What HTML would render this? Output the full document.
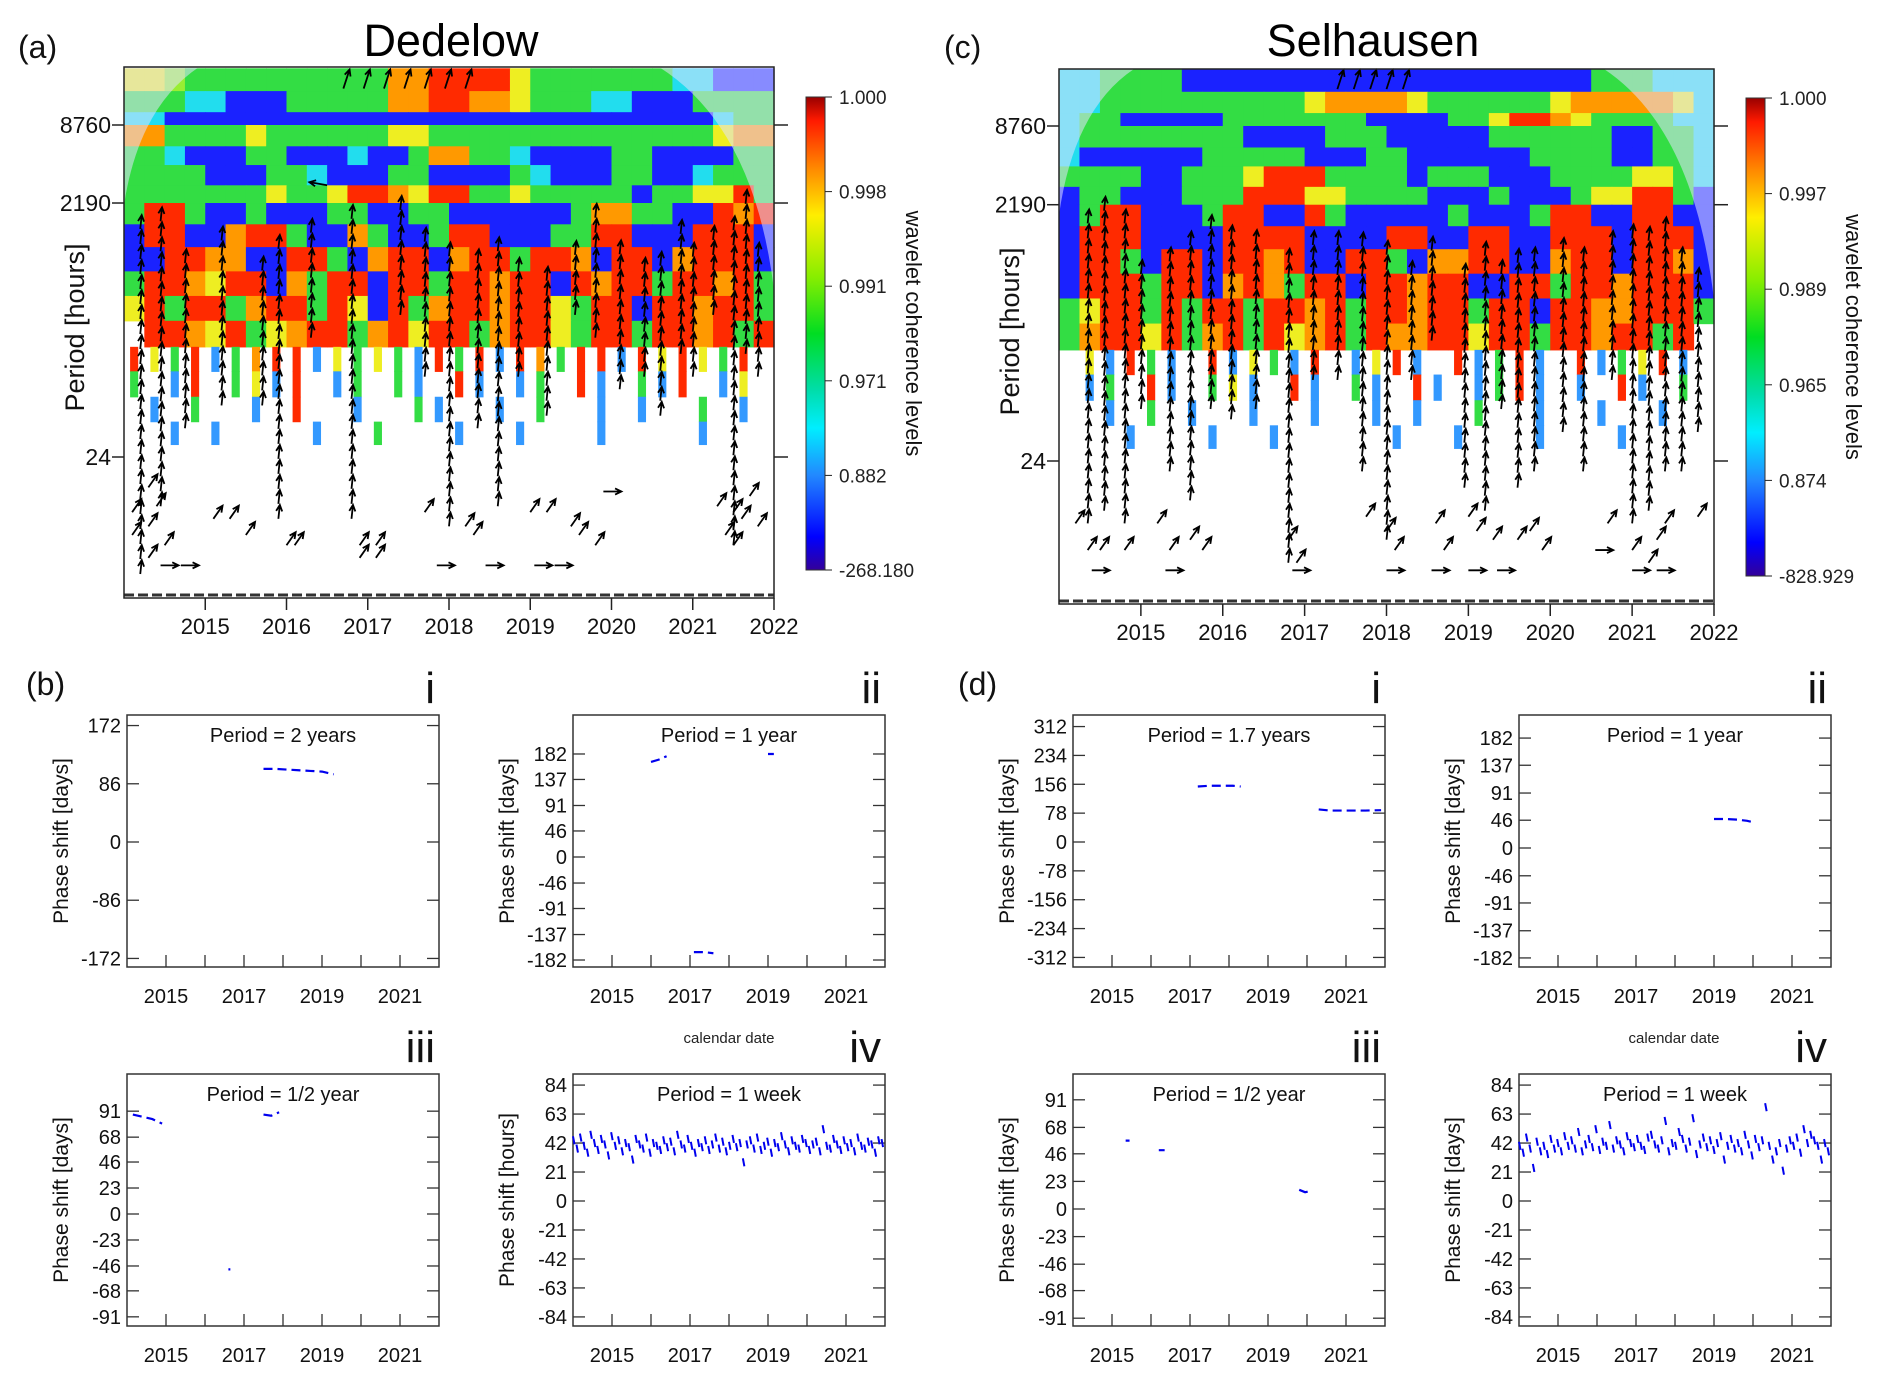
<!DOCTYPE html>
<html><head><meta charset="utf-8"><style>
html,body{margin:0;padding:0;background:#fff;}
svg{display:block;font-family:"Liberation Sans",Arial,sans-serif;}
</style></head><body>
<svg id="fig" width="1892" height="1381" viewBox="0 0 1892 1381" xmlns="http://www.w3.org/2000/svg">
<defs>
<linearGradient id="cbar" x1="0" y1="0" x2="0" y2="1">
<stop offset="0" stop-color="#990000"/><stop offset="0.05" stop-color="#ff1a00"/><stop offset="0.15" stop-color="#ff8800"/>
<stop offset="0.25" stop-color="#ffee00"/><stop offset="0.38" stop-color="#88ee00"/><stop offset="0.5" stop-color="#00dd22"/>
<stop offset="0.62" stop-color="#00ddaa"/><stop offset="0.7" stop-color="#00eeff"/><stop offset="0.8" stop-color="#2288ff"/>
<stop offset="0.93" stop-color="#0000ff"/><stop offset="1" stop-color="#330099"/></linearGradient>
</defs>
</svg>
<script>
// ---------- data ----------
const periodEdges=[24000,16000,11000,8760,6000,4300,3000,2190,1500,1000,650,420,270,170,110,70,45,30];
const dedelowGrid=[
"YYgGGGGGGGGGGOORRRRYGGGGGGGCCBBB",
"GGGCCBBBGGGGGOORROOYGGGCCBBBGGGG",
"CCBBBBBBBBBBBBBBBBBBBBBBBBBBBCGG",
"OOGGGGYGGGGGGYYGGGGGGGGGGGGGGYOO",
"GGCBBBGGBBBCBBGOOGGCBBBBGGBBBBGG",
"GGGGBBBGGCBBBGGBBBBGCBBBGGBBCGGG",
"GGGGGGGYGGYRROYRRGGYGGGGGBGGYYRG",
"GRRGBBGBBBGGBBGGBBBBBBGOOGGBBROR",
"BRRBBORRGBBOGBBGRRBBBGGRRBBBRRRB",
"BBRROOBBRRGBORRBORRGRROBRRBORRRB",
"GRROYRRBOGRRBRRGRRORRBRORRGRRORG",
"YRGRRGORRGRYBRGORRORRYGRRBRRORRG",
"WRROYRGYORRGORYRRGORRYGRRGRRORGR",
"RYGRbGORRbYGYGbRGRbROGRRbRYRYGRW",
"GWbRWGYbRWbGWGbWRbWbGWRbWGbRWbYW",
"WbWGWWbWRWWbWWGbWWbWGWWbWbWWGWbW",
"WWbWbWWWWbWWGWWWbWWbWWWbWWWWbWWW"];
const selhausenGrid=[
"CCGGGGBBBBBBBBBBBBBBBBBBBBGGGCCC",
"CCGGGGGGGGGGYOOOOYGGGGGGYOOOOOYC",
"CGGBBBBBGGGGGGGBBBBGGYRROYGGGGCC",
"CGGGGGGGGBBBBGGGBBBBBGGGGGGBBGGC",
"CBBBBBBGGGGGBBBGGBBBBBBGGGGBBGGC",
"GGGGBBGGGYRRRGGGGBGGGBBBGGGGYYGC",
"BGGBBBGGGRRRYYGGGGBBBGBBBGYYRRGB",
"BGRRBBBGRRBBRGBBBBBGBBBGRRBBRRBB",
"BRRRBBBBRRRRBBBBRRBBRRBBRRRBRRRB",
"BRRGBRRBRRORBBRRGBOORRBBORRBRROB",
"BRRRGRRBOROGRRBRRORRBBRRGRRORRRB",
"GYRRGRGRRGRRORGRRORRGRRBRROORRRG",
"GORRYRGORGRYORGROORRYRRGRRORRGRW",
"WYbRGbWRbYGbRWbYRbWRbGRbWRbGYRbW",
"WbGWRbWGYbWRbWGbWRbWbGRbWbWRbWGW",
"WWbWGWbWWbWWbWWbWbWWGWWbWWbWWbWW",
"WWWbWWWbWWbWWWWWbWWbWWWbWWWbWWWW"];
// arrow columns: year, top period, bottom period
const dedColYears=[2014.2,2014.45,2014.75,2015.2,2015.7,2015.9,2016.3,2016.8,2017.4,2017.7,2018.0,2018.35,2018.6,2018.85,2019.2,2019.55,2019.8,2020.1,2020.4,2020.6,2020.85,2021.0,2021.25,2021.5,2021.65,2021.8];
const dedColTop=[1500,1800,900,1200,800,1000,1500,1700,2500,1200,1000,900,1000,800,600,1000,2000,1000,700,900,1500,1000,1400,1500,2500,900];
const dedColBot=[3,10,40,60,60,8,200,8,300,100,7,40,10,100,50,300,200,80,100,50,150,100,300,5,150,100];
const dedDiagYears=[2014.3,2014.4,2014.3,2014.5,2014.3,2015.1,2015.3,2015.5,2016.0,2016.1,2016.9,2017.1,2016.9,2017.1,2017.7,2018.2,2018.3,2019.0,2019.2,2019.5,2019.6,2019.8,2021.3,2021.5,2021.6,2021.4,2021.5,2021.7,2021.8,2014.1,2014.1];
const dedDiagPer=[14,10,7,5,4,8,8,6,5,5,5,5,4,4,9,7,6,9,9,7,6,5,10,9,8,6,5,12,7,9,6];
const dedHorizYears=[2014.45,2014.7,2017.85,2018.45,2019.05,2019.3,2019.9,2016.5];
const dedHorizPer=[3.5,3.5,3.5,3.5,3.5,3.5,13,3000];
const selColYears=[2014.35,2014.55,2014.8,2015.0,2015.35,2015.6,2015.85,2016.1,2016.4,2016.8,2017.1,2017.4,2017.7,2018.0,2018.3,2018.55,2018.95,2019.2,2019.4,2019.6,2019.8,2020.15,2020.4,2020.75,2021.0,2021.2,2021.4,2021.6,2021.8];
const selColTop=[1800,2500,1800,700,900,1100,1800,1400,1200,900,1300,1100,1200,1000,700,1000,700,900,700,800,1000,1100,900,1200,1300,1200,1500,900,600];
const selColBot=[8,10,8,60,20,12,60,50,60,4,100,100,20,6,100,200,15,10,60,15,20,40,20,100,8,10,20,20,40];
const selDiagYears=[2014.2,2014.35,2014.5,2014.8,2015.2,2015.35,2015.6,2015.75,2016.8,2016.9,2017.75,2018.0,2018.1,2018.6,2018.7,2019.0,2019.1,2019.3,2019.6,2019.75,2019.9,2020.7,2021.0,2021.2,2021.3,2021.4,2021.8];
const selDiagPer=[8,5,5,5,8,5,6,5,6,4,9,7,5,8,5,9,7,6,6,7,5,8,5,4,6,8,9];
const selHorizYears=[2014.4,2015.3,2018.0,2018.55,2019.0,2019.35,2020.55,2021.0,2021.3,2016.85];
const selHorizPer=[3.5,3.5,3.5,3.5,3.5,3.5,5,3.5,3.5,3.5];
// phase series (null = gap)
const biYears=[2017.5,2017.8,2018.1,2018.4,2018.7,2019.0,2019.3];
const biVals=[108,108,107,106,105,104,100];
const biiYears=[2016.0,2016.2,2016.4,null,2019.0,2019.15,null,2017.1,2017.35,2017.6];
const biiVals=[168,172,178,null,182,182,null,-168,-168,-170];
const biiiYears=[2014.15,2014.4,2014.65,2014.9,null,2017.5,2017.7,2017.9,null,2016.6,2016.65];
const biiiVals=[88,86,84,80,null,88,87,90,null,-49,-49];
const divYears=[2017.2,2017.5,2017.8,2018.1,2018.3,null,2020.3,2020.6,2020.9,2021.2,2021.5,2021.9];
const diVals=[150,152,152,152,150,null,88,85,85,85,85,86];
const diiYears=[2019.0,2019.3,2019.6,2019.85,2020.05];
const diiVals=[48,48,47,45,42];
const diiiYears=[2015.35,2015.45,null,2016.2,2016.35,null,2019.8,2019.95,2020.1];
const diiiVals=[57,57,null,49,49,null,16,14,15];
const bivVals=[44,38,46,40,35,48,42,37,45,41,33,47,40,44,36,42,39,30,45,41,38,46,35,42,40,37,44,39,43,36,48,41,38,45,40,35,42,39,44,37,41,46,38,43,36,40,45,39,42,28,41,44,38,46,37,40,43,35,42,39,47,41,36,44,40,38,45,42,37,41,43,36,52,40,38,45,41,37,44,39,42,36,46,40,38,43,41,35,44,42];
const divVals=[40,35,46,38,24,43,36,40,34,45,38,42,36,47,40,44,38,50,36,41,45,39,52,37,43,40,55,38,44,41,36,47,42,39,45,40,37,46,48,41,38,44,58,36,42,40,50,45,38,43,60,34,41,46,39,44,37,42,47,30,40,45,38,42,36,48,41,33,45,39,44,68,40,30,36,42,22,38,44,40,46,35,52,42,48,44,40,30,42,36];
const yearTicksTop=[2015,2016,2017,2018,2019,2020,2021,2022];
const periodTicks=[8760,2190,24];
const yearTicksBottom=[2015,2017,2019,2021];
const dedCbarLabels=["1.000","0.998","0.991","0.971","0.882","-268.180"];
const selCbarLabels=["1.000","0.997","0.989","0.965","0.874","-828.929"];

// ---------- drawing ----------
const NS="http://www.w3.org/2000/svg";
const svg=document.getElementById('fig');
function mk(tag,attrs,parent){const e=document.createElementNS(NS,tag);for(const k in attrs)e.setAttribute(k,attrs[k]);(parent||svg).appendChild(e);return e;}
function txt(s,attrs,parent){const e=mk('text',attrs,parent);e.textContent=s;return e;}
const COL={B:'#1a22ff',C:'#22ddee',G:'#33dd44',g:'#99ee33',Y:'#eeee22',O:'#ff9900',R:'#ff2a00',b:'#3399ff'};

function topPanel(cfg){
  const g=mk('g',{});
  
  
  const k=(cfg.y24-cfg.y8760)/Math.log2(8760/24);
  const yP=p=>cfg.y24-Math.log2(p/24)*k;
  const xY=yr=>cfg.x0+(yr-2014)*(cfg.x1-cfg.x0)/8;
  const cw=(cfg.x1-cfg.x0)/32;
  cfg.grid.forEach((row,r)=>{
    const ya=Math.max(cfg.y0,yP(periodEdges[r])), yb=yP(periodEdges[r+1]);
    for(let c=0;c<32;c++){const ch=row[c]; if(ch==='W')continue;
      const narrow=r>=13||ch==='b';
      const w=narrow?cw*0.4:cw+0.6;
      const cell=mk('rect',{x:xY(2014+c*0.25)+(narrow?cw*0.3:0),y:ya,width:w,height:yb-ya+0.6,fill:COL[ch]},g);
      
      
    }
  });
  const cone=mk('path',{d:`M${cfg.x0},${cfg.y0} L${cfg.x0},${cfg.coneL} Q${cfg.x0+15},${cfg.y0+40} ${cfg.x0+cfg.coneTL},${cfg.y0} Z M${cfg.x1},${cfg.y0} L${cfg.x1-cfg.coneTR},${cfg.y0} Q${cfg.x1-20},${cfg.y0+60} ${cfg.x1},${cfg.coneR} Z`,fill:'rgba(225,225,255,0.55)'},g);
  
  
  function arrow(x,y,ang,len){
    const a=ang*Math.PI/180, dx=Math.cos(a)*len, dy=-Math.sin(a)*len;
    const x2=x+dx,y2=y+dy;
    const p=mk('path',{d:`M${x},${y} L${x2},${y2} M${x2-Math.cos(a-0.45)*7},${y2+Math.sin(a-0.45)*7} L${x2},${y2} L${x2-Math.cos(a+0.45)*7},${y2+Math.sin(a+0.45)*7}`,stroke:'#000','stroke-width':1.8,fill:'none'},g);
    
    
  }
  cfg.colYears.forEach((yr,i)=>{
    const yt=yP(cfg.colTop[i]), yb=yP(cfg.colBot[i]);
    for(let y=yb;y>yt;y-=15) arrow(xY(yr),y,84,14);
  });
  cfg.diagYears.forEach((yr,i)=>arrow(xY(yr),yP(cfg.diagPer[i]),55,16));
  cfg.horizYears.forEach((yr,i)=>arrow(xY(yr),yP(cfg.horizPer[i]),cfg.horizPer[i]>100?170:0,18));
  cfg.topArrows.forEach(yr=>{arrow(xY(yr),yP(cfg.topPer)+10,72,20);});
  const bb=mk('line',{x1:cfg.x0,y1:cfg.y1-3,x2:cfg.x1,y2:cfg.y1-3,stroke:'#333','stroke-width':3,'stroke-dasharray':'10 4'},g);
  
  
  const fr=mk('rect',{x:cfg.x0,y:cfg.y0,width:cfg.x1-cfg.x0,height:cfg.y1-cfg.y0,fill:'none',stroke:'#222','stroke-width':1.5},g);
  
  
  periodTicks.forEach(p=>{
    const y=yP(p);
    mk('line',{x1:cfg.x0-12,y1:y,x2:cfg.x0,y2:y,stroke:'#222','stroke-width':1.5},g);
    mk('line',{x1:cfg.x1,y1:y,x2:cfg.x1+14,y2:y,stroke:'#222','stroke-width':1.5},g);
    const t=txt(String(p),{x:cfg.x0-13,y:y+8,'font-size':23,'text-anchor':'end',fill:'#111'},g);
    
    
  });
  yearTicksTop.forEach(yr=>{
    const x=xY(yr);
    mk('line',{x1:x,y1:cfg.y1,x2:x,y2:cfg.y1+12,stroke:'#222','stroke-width':1.5},g);
    const t=txt(String(yr),{x:x,y:cfg.y1+36,'font-size':22,'text-anchor':'middle',fill:'#111'},g);
    
    
  });
  const yl=txt('Period [hours]',{x:0,y:0,'font-size':27,'text-anchor':'middle',fill:'#111',transform:`translate(${cfg.x0-40},${(cfg.y0+cfg.y1)/2-5}) rotate(-90)`},g);
  
  
  const ti=txt(cfg.title,{x:cfg.titleX,y:56,'font-size':45,'text-anchor':'middle',fill:'#000'},g);
  
  
  const pl=txt(cfg.letter,{x:cfg.letterX,y:58,'font-size':32,fill:'#111'},g);
  
  
  const cb=mk('rect',{x:cfg.cbx,y:cfg.cby0,width:19,height:cfg.cby1-cfg.cby0,fill:'url(#cbar)',stroke:'#333','stroke-width':1},g);
  
  
  cfg.cbLabels.forEach((s,i)=>{
    const y=cfg.cby0+i*(cfg.cby1-cfg.cby0)/5;
    mk('line',{x1:cfg.cbx+19,y1:y,x2:cfg.cbx+26,y2:y,stroke:'#222'},g);
    const t=txt(s,{x:cfg.cbx+33,y:y+7,'font-size':19,fill:'#222'},g);
    
    
  });
  const cl=txt('wavelet coherence levels',{x:0,y:0,'font-size':22,'text-anchor':'middle',fill:'#111',transform:`translate(${cfg.cbx+100},${(cfg.cby0+cfg.cby1)/2}) rotate(90)`},g);
  
  
}

topPanel({name:'dedelow-wavelet-panel',grid:dedelowGrid,x0:124,x1:774,y0:67,y1:598,y8760:125,y24:457,coneL:205,coneTL:75,coneTR:115,coneR:290,
 colYears:dedColYears,colTop:dedColTop,colBot:dedColBot,diagYears:dedDiagYears,diagPer:dedDiagPer,horizYears:dedHorizYears,horizPer:dedHorizPer,
 topArrows:[2016.7,2016.95,2017.2,2017.45,2017.7,2017.95,2018.2],topPer:20000,
 title:'Dedelow',titleX:451,letter:'(a)',letterX:18,cbx:806,cby0:97,cby1:570,cbLabels:dedCbarLabels});
topPanel({name:'selhausen-wavelet-panel',grid:selhausenGrid,x0:1059,x1:1714,y0:69,y1:604,y8760:126,y24:461,coneL:215,coneTL:75,coneTR:110,coneR:300,
 colYears:selColYears,colTop:selColTop,colBot:selColBot,diagYears:selDiagYears,diagPer:selDiagPer,horizYears:selHorizYears,horizPer:selHorizPer,
 topArrows:[2017.4,2017.6,2017.8,2018.0,2018.2],topPer:20000,
 title:'Selhausen',titleX:1373,letter:'(c)',letterX:944,cbx:1746,cby0:98,cby1:576,cbLabels:selCbarLabels});

function phasePanel(cfg){
  const g=mk('g',{});
  
  
  const x0=cfg.x0,x1=x0+312,y0=cfg.y0,y1=y0+252;
  const xY=yr=>x0+(yr-2014)*(x1-x0)/8;
  const yV=v=>cfg.yZero-v*cfg.scale;
  const fr=mk('rect',{x:x0,y:y0,width:x1-x0,height:y1-y0,fill:'none',stroke:'#333','stroke-width':1.5},g);
  
  
  cfg.ticks.forEach(v=>{
    const y=yV(v);
    mk('line',{x1:x0,y1:y,x2:x0+12,y2:y,stroke:'#333','stroke-width':1.3},g);
    mk('line',{x1:x1-12,y1:y,x2:x1,y2:y,stroke:'#333','stroke-width':1.3},g);
    const t=txt(String(v),{x:x0-6,y:y+7,'font-size':20,'text-anchor':'end',fill:'#111'},g);
    
    
  });
  for(let yr=2015;yr<=2021;yr++){mk('line',{x1:xY(yr),y1:y1,x2:xY(yr),y2:y1-12,stroke:'#333','stroke-width':1.3},g);}
  yearTicksBottom.forEach(yr=>{
    const t=txt(String(yr),{x:xY(yr),y:y1+36,'font-size':20,'text-anchor':'middle',fill:'#111'},g);
    
    
  });
  const ti=txt(cfg.title,{x:(x0+x1)/2,y:y0+27,'font-size':20,'text-anchor':'middle',fill:'#111'},g);
  
  
  const yl=txt(cfg.ylab,{x:0,y:0,'font-size':21,'text-anchor':'middle',fill:'#111',transform:`translate(${x0-59},${(y0+y1)/2}) rotate(-90)`},g);
  
  
  const rn=txt(cfg.roman,{x:x1-4,y:y0-12,'font-size':44,'text-anchor':'end',fill:'#111'},g);
  
  
  if(cfg.years){
    let d='',pen=false;
    cfg.years.forEach((yr,i)=>{ if(yr===null){pen=false;return;} d+=(pen?'L':'M')+xY(yr)+','+yV(cfg.vals[i])+' '; pen=true;});
    const s=mk('path',{d:d,stroke:'#0000ee','stroke-width':2.2,fill:'none','stroke-dasharray':'9 5'},g);
    
    
  }
  if(cfg.week){
    let d='';const n=cfg.week.length;
    cfg.week.forEach((v,i)=>{const x=xY(2014+i*8/n);d+=`M${x},${yV(v)-4} L${x+1.5},${yV(v)+4} `;});
    const s=mk('path',{d:d,stroke:'#0000ee','stroke-width':2,fill:'none'},g);
    
    
  }
}
phasePanel({name:'dedelow-phase-2yr',x0:127,y0:715,yZero:842,scale:0.677,ticks:[172,86,0,-86,-172],title:'Period = 2 years',ylab:'Phase shift [days]',roman:'i',years:biYears,vals:biVals});
phasePanel({name:'dedelow-phase-1yr',x0:573,y0:715,yZero:857,scale:0.566,ticks:[182,137,91,46,0,-46,-91,-137,-182],title:'Period = 1 year',ylab:'Phase shift [days]',roman:'ii',years:biiYears,vals:biiVals});
phasePanel({name:'dedelow-phase-halfyr',x0:127,y0:1074,yZero:1214,scale:1.13,ticks:[91,68,46,23,0,-23,-46,-68,-91],title:'Period = 1/2 year',ylab:'Phase shift [days]',roman:'iii',years:biiiYears,vals:biiiVals});
phasePanel({name:'dedelow-phase-week',x0:573,y0:1074,yZero:1201,scale:1.38,ticks:[84,63,42,21,0,-21,-42,-63,-84],title:'Period = 1 week',ylab:'Phase shift [hours]',roman:'iv',week:bivVals});
phasePanel({name:'selhausen-phase-1.7yr',x0:1073,y0:715,yZero:842,scale:0.37,ticks:[312,234,156,78,0,-78,-156,-234,-312],title:'Period = 1.7 years',ylab:'Phase shift [days]',roman:'i',years:divYears,vals:diVals});
phasePanel({name:'selhausen-phase-1yr',x0:1519,y0:715,yZero:848,scale:0.604,ticks:[182,137,91,46,0,-46,-91,-137,-182],title:'Period = 1 year',ylab:'Phase shift [days]',roman:'ii',years:diiYears,vals:diiVals});
phasePanel({name:'selhausen-phase-halfyr',x0:1073,y0:1074,yZero:1209,scale:1.2,ticks:[91,68,46,23,0,-23,-46,-68,-91],title:'Period = 1/2 year',ylab:'Phase shift [days]',roman:'iii',years:diiiYears,vals:diiiVals});
phasePanel({name:'selhausen-phase-week',x0:1519,y0:1074,yZero:1201,scale:1.38,ticks:[84,63,42,21,0,-21,-42,-63,-84],title:'Period = 1 week',ylab:'Phase shift [days]',roman:'iv',week:divVals});

[['(b)',26,695],['(d)',958,695]].forEach(a=>{
  const t=txt(a[0],{x:a[1],y:a[2],'font-size':32,fill:'#111'});
  
  
});
[[729],[1674]].forEach(a=>{
  const t=txt('calendar date',{x:a[0],y:1043,'font-size':15,'text-anchor':'middle',fill:'#222'});
  
  
});
</script>
</body></html>
